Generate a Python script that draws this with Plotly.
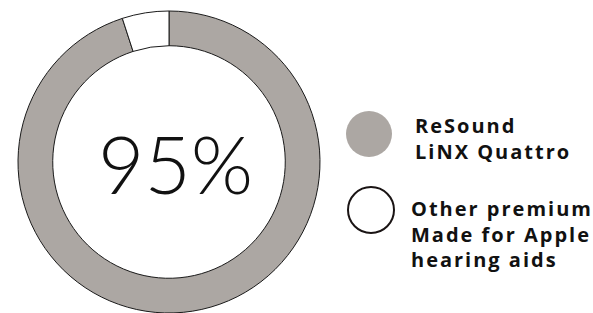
import plotly.graph_objects as go

labels = ["ReSound<br>LiNX Quattro", "Other premium<br>Made for Apple<br>hearing aids"]
values = [95, 5]
colors = ["#aca7a3", "#ffffff"]
center_text = "95%"

W, H = 593, 313

fig = go.Figure()
fig.add_trace(go.Pie(
    labels=labels, values=values, hole=0.77,
    sort=False, direction="clockwise", rotation=0,
    marker=dict(colors=colors, line=dict(color="#1a1a1a", width=1)),
    textinfo="none", hoverinfo="none", showlegend=False,
    domain=dict(x=[18 / W, 320 / W], y=[1 - 313 / H, 1 - 11 / H]),
))

# invisible pixel axes for the legend shapes/text
fig.add_trace(go.Scatter(x=[0, W], y=[0, H], mode="markers", marker=dict(opacity=0),
                         showlegend=False, hoverinfo="skip"))

# (circle cx, circle cy, text x, first baseline y)
legend_pos = [(369, 134, 413, 132), (371, 210, 409, 215)]
line_gap = 25.5
for i, (lab, col) in enumerate(zip(labels, colors)):
    cx, cy, tx, by = legend_pos[i]
    r = 23
    fig.add_shape(type="circle", xref="x", yref="y", x0=cx - r, x1=cx + r, y0=cy - r, y1=cy + r,
                  fillcolor=col,
                  line=dict(color=col if i == 0 else "#1a1414", width=0 if i == 0 else 2))
    for k, part in enumerate(lab.split("<br>")):
        fig.add_annotation(x=tx, y=by + k * line_gap + 9, xref="x", yref="y", text=part,
                           showarrow=False, xanchor="left", yanchor="bottom", align="left",
                           font=dict(family="Open Sans", size=20, color="#111111", weight=700))

fig.add_annotation(x=175, y=163, xref="x", yref="y", text=center_text, showarrow=False,
                   xanchor="center", yanchor="middle",
                   font=dict(family="Lato", size=80, color="#111111", weight=300))

fig.update_xaxes(range=[0, W], visible=False, fixedrange=True)
fig.update_yaxes(range=[H, 0], visible=False, fixedrange=True)
fig.update_layout(width=W, height=H, margin=dict(l=0, r=0, t=0, b=0),
                  paper_bgcolor="white", plot_bgcolor="white")

post = """
document.body.style.margin = '0';
document.body.style.overflow = 'hidden';
document.querySelectorAll('.annotation-text').forEach(function (t) {
  if (t.textContent.indexOf('%') < 0) { t.style.letterSpacing = '2px'; }
});
"""
fig.write_html("out.html", post_script=post, config={"displayModeBar": False})
